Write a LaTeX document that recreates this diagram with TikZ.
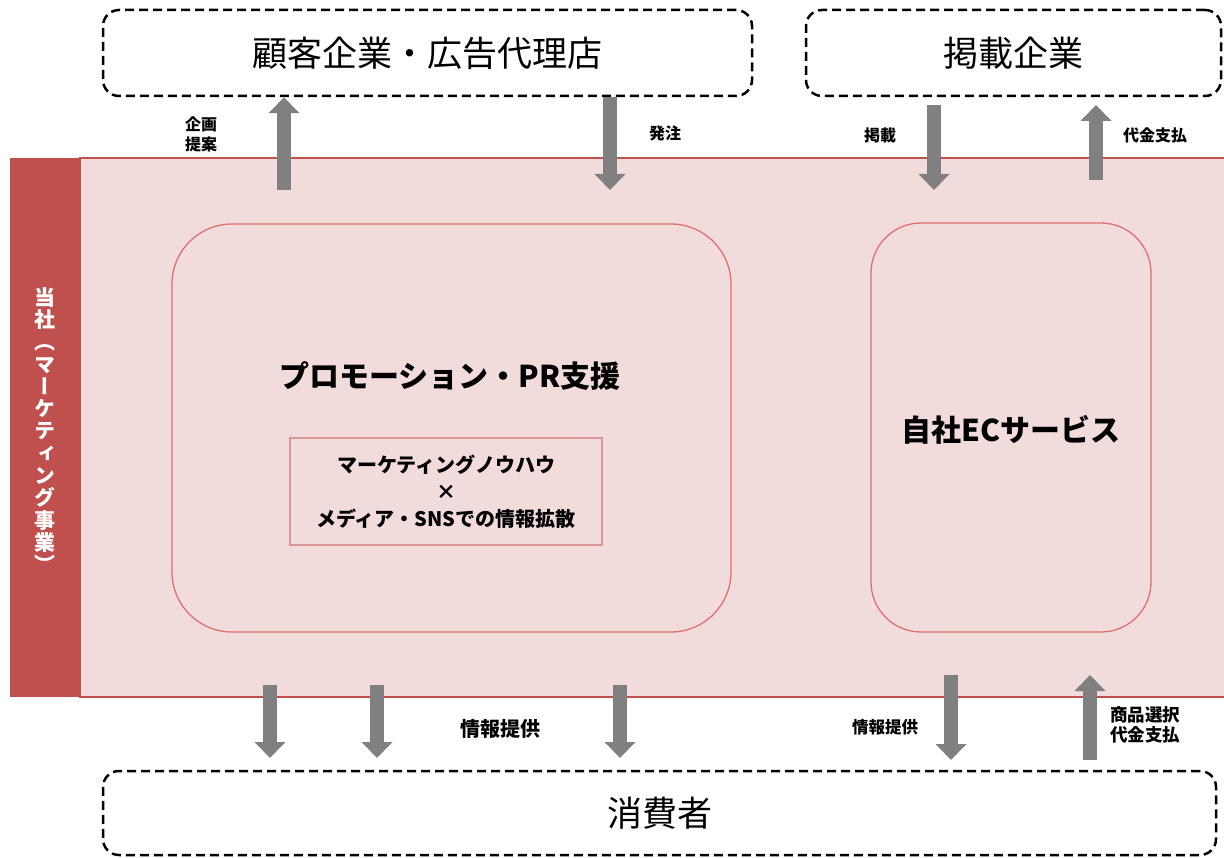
\documentclass[tikz,border=0pt]{standalone}
\usepackage{fontspec}
\setmainfont{Noto Sans CJK JP}
\newfontfamily\jpv[RawFeature=+vert]{Noto Sans CJK JP}
\usetikzlibrary{arrows.meta}
\definecolor{bandfill}{HTML}{F2DCDB}
\definecolor{bandred}{HTML}{C0504D}
\definecolor{boxred}{HTML}{E07070}
\definecolor{innerred}{HTML}{D99694}
\definecolor{arrowgray}{HTML}{808080}
\tikzset{
  dashbox/.style={draw=black, line width=2.5pt, dash pattern=on 9pt off 5pt, rounded corners=16pt, font=\fontsize{35}{40}\selectfont},
  bigarrow/.style={draw=arrowgray, line width=14pt, -{Triangle[width=30pt,length=16pt]}},
  lbl/.style={font=\bfseries\fontsize{16}{20}\selectfont, align=center},
  title/.style={font=\bfseries\fontsize{30}{36}\selectfont},
  roundbox/.style={draw=boxred, line width=1.3pt, fill=bandfill},
}
\begin{document}
\begin{tikzpicture}[x=1pt,y=-1pt]
\useasboundingbox (0,0) rectangle (1224,858);
% band
\node[fill=bandfill, draw=bandred, line width=2pt, minimum width=1160pt, minimum height=539pt, inner sep=0pt] (band) at (660,427.5) {};
\node[fill=bandred, minimum width=70pt, minimum height=539pt, inner sep=0pt] (side) at (45,427.5) {};
\node[text=white, align=center, font=\jpv\bfseries\fontsize{21}{22.3}\selectfont] (sidetext) at (45,430)
  {当\\社\\（\\マ\\ー\\ケ\\テ\\ィ\\ン\\グ\\事\\業\\）};
% boxes
\node[dashbox, minimum width=649pt, minimum height=86pt] (client) at (427.5,53) {顧客企業・広告代理店};
\node[dashbox, minimum width=415pt, minimum height=86pt] (pub) at (1013.5,53) {掲載企業};
\node[dashbox, minimum width=1113pt, minimum height=84pt] (cons) at (659.5,813) {消費者};
\node[roundbox, rounded corners=60pt, minimum width=559pt, minimum height=408pt] (promo) at (451.5,428) {};
\node[title] (promotitle) at (450,376) {プロモーション・PR支援};
\node[draw=innerred, line width=1.5pt, fill=bandfill, minimum width=312pt, minimum height=107pt, align=center,
      font=\bfseries\fontsize{20}{27}\selectfont] (inner) at (446,491.5)
  {マーケティングノウハウ\\×\\メディア・SNSでの情報拡散};
\node[roundbox, rounded corners=50pt, minimum width=280pt, minimum height=409pt] (ec) at (1011,427.5) {};
\node[title] (ectitle) at (1011,430) {自社ECサービス};
% arrow coordinates
\coordinate (a1) at (284,190);
\coordinate (a2) at (610,190);
\coordinate (a3s) at (934,105);
\coordinate (a3) at (934,190);
\coordinate (a4s) at (1096,180);
\coordinate (a4) at (1096,105);
\coordinate (b1s) at (270,685); \coordinate (b1) at (270,758);
\coordinate (b2s) at (377,685); \coordinate (b2) at (377,758);
\coordinate (b3s) at (620,685); \coordinate (b3) at (620,758);
\coordinate (b4s) at (951,675); \coordinate (b4) at (951,760);
\coordinate (b5s) at (1090,760); \coordinate (b5) at (1090,675);
\draw[bigarrow] (a1) -- (a1 |- client.south);
\draw[bigarrow] (a2 |- client.south) -- (a2);
\draw[bigarrow] (a3s) -- (a3);
\draw[bigarrow] (a4s) -- (a4);
\draw[bigarrow] (b1s) -- (b1);
\draw[bigarrow] (b2s) -- (b2);
\draw[bigarrow] (b3s) -- (b3);
\draw[bigarrow] (b4s) -- (b4);
\draw[bigarrow] (b5s) -- (b5);
% labels
\node[lbl] (l1) at (201,134) {企画\\提案};
\node[lbl] (l2) at (665,133) {発注};
\node[lbl] (l3) at (880,135) {掲載};
\node[lbl] (l4) at (1155,135) {代金支払};
\node[lbl, font=\bfseries\fontsize{20}{24}\selectfont] (l5) at (500,729) {情報提供};
\node[lbl, font=\bfseries\fontsize{16.5}{20}\selectfont] (l6) at (885,727) {情報提供};
\node[lbl, font=\bfseries\fontsize{17.5}{19.5}\selectfont] (l7) at (1145,725) {商品選択\\代金支払};
\end{tikzpicture}
\end{document}
